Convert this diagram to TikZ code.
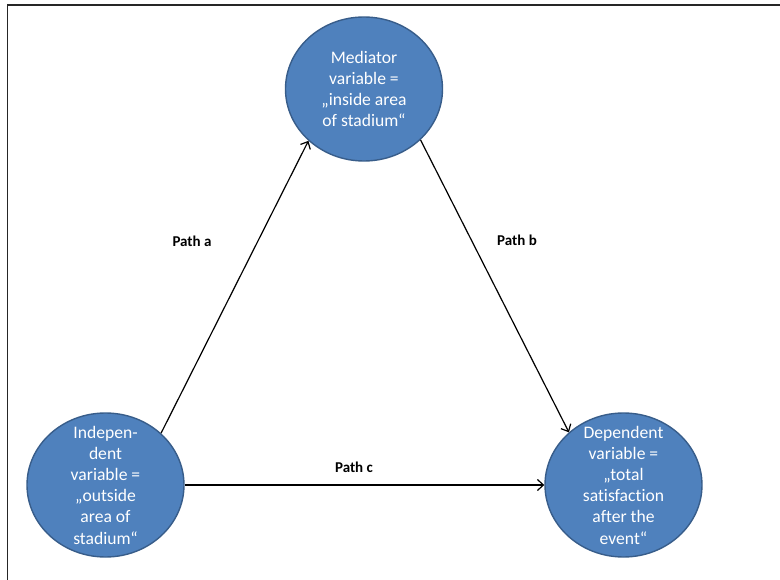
\documentclass[tikz,border=0pt]{standalone}
\usepackage{fontspec}
\setmainfont{Carlito}[Ligatures={NoCommon}]
\usetikzlibrary{shapes.geometric,arrows.meta}

\definecolor{varfill}{HTML}{4F81BD}
\definecolor{varedge}{HTML}{385D8A}

\tikzset{
  varnode/.style={ellipse, draw=varedge, line width=1.4pt, fill=varfill,
    minimum width=157pt, minimum height=144pt, inner xsep=0pt, inner ysep=-15pt,
    text=white, align=center, font=\fontsize{17.6}{21.2}\selectfont},
  conn/.style={line width=1.2pt, -{Straight Barb[length=6pt,width=11pt,line width=1.2pt]}},
  pathlabel/.style={font=\fontsize{15}{18}\selectfont\bfseries, text=black},
  frameline/.style={draw=black!85}
}

\begin{document}
\begin{tikzpicture}[x=1pt, y=-1pt]
  \useasboundingbox (0,0) rectangle (780,580);

  % page frame (top and left edges)
  \draw[frameline, line width=2pt] (7,5) -- (780,5);
  \draw[frameline, line width=1pt] (7.5,4) -- (7.5,580);

  % the three variables
  \node[varnode] (med) at (364,89) {Mediator\\variable =\\„inside area\\of stadium“};
  \node[varnode] (ind) at (105.5,485) {Indepen-\\dent\\variable =\\„outside\\area of\\stadium“};
  \node[varnode] (dep) at (623.5,485) {Dependent\\variable =\\„total\\satisfaction\\after the\\event“};

  % paths between them
  \draw[conn] (ind.43.7) -- (med.223.9);
  \draw[conn] (med.-42.3) -- (dep.136.9);
  \draw[conn] (ind.east) -- (dep.west);

  \node[pathlabel] (pa) at (192,241) {Path a};
  \node[pathlabel] (pb) at (517,240) {Path b};
  \node[pathlabel] (pc) at (354,467) {Path c};
\end{tikzpicture}
\end{document}
